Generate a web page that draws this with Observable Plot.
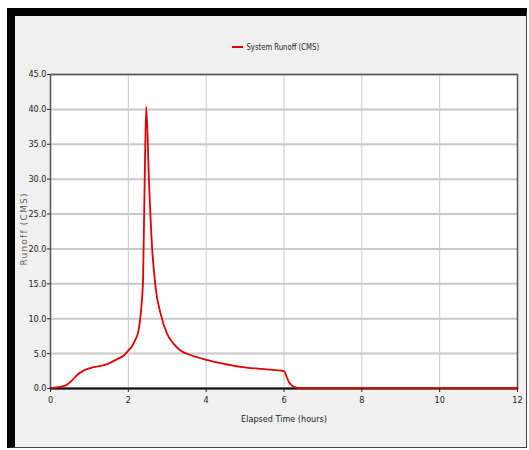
<!DOCTYPE html>
<html>
<head>
<meta charset="utf-8">
<script src="https://cdn.jsdelivr.net/npm/d3@7"></script>
<script src="https://cdn.jsdelivr.net/npm/@observablehq/plot@0.6"></script>
<style>
  body { margin: 0; background: #fff; }
  #wrap { position: relative; width: 529px; height: 450px; overflow: hidden; }
  #frame { position: absolute; left: 7px; top: 8px; width: 511px; height: 431px;
    border-left: 8px solid #000; border-top: 8px solid #000; border-right: 1px solid #444; border-bottom: 1px solid #444;
    background: #f0f0f0; }
  #chart { position: absolute; left: 0; top: 0; }
  #legend { position: absolute; top: 42px; left: 232px; font: 9px "DejaVu Sans Condensed", "Liberation Sans Narrow", sans-serif;
    color: #222; display: flex; align-items: center; transform: scaleX(0.85); transform-origin: left center; }
  #legend .sw { width: 13px; height: 2px; background: #e00000; margin-right: 4px; }
  .ylab { letter-spacing: 1.2px; }
</style>
</head>
<body>
<div id="wrap">
  <div id="frame"></div>
  <div id="chart"></div>
  <div id="legend"><span class="sw"></span><span>System Runoff (CMS)</span></div>
</div>
<script>
const hours = [0, 0.2, 0.39, 0.56, 0.7, 0.86, 1.11, 1.46, 1.71, 1.9, 1.99, 2.1, 2.19, 2.25, 2.3, 2.34, 2.38, 2.42, 2.46, 2.53, 2.61, 2.7, 2.83, 3.0, 3.15, 3.34, 3.6, 3.98, 4.4, 4.88, 5.4, 6.0, 6.04, 6.08, 6.13, 6.21, 6.34, 6.5, 8, 10, 12];
const runoff = [0.05, 0.2, 0.45, 1.2, 2.0, 2.6, 3.05, 3.5, 4.2, 4.8, 5.4, 6.1, 7.1, 8.0, 9.7, 12.0, 16.0, 29.8, 40.4, 29.8, 20.2, 14.5, 10.7, 7.8, 6.5, 5.45, 4.8, 4.15, 3.6, 3.1, 2.8, 2.5, 2.1, 1.5, 0.9, 0.4, 0.1, 0.05, 0.05, 0.05, 0.05];
const xTicks = [0, 2, 4, 6, 8, 10, 12];
const yTicks = [0, 5, 10, 15, 20, 25, 30, 35, 40, 45];
const seriesName = "System Runoff (CMS)";

const data = hours.map((h, i) => ({h, v: runoff[i]}));
const font = '"DejaVu Sans Condensed", "Liberation Sans Narrow", sans-serif';

const chart = Plot.plot({
  width: 529,
  height: 450,
  marginLeft: 50,
  marginRight: 12,
  marginTop: 74,
  marginBottom: 62,
  style: {background: "transparent", fontFamily: font, fontSize: "8.5px", color: "#222"},
  x: {domain: [0, 12], ticks: xTicks, tickSize: 4, tickFormat: d => d, label: null},
  y: {domain: [0, 45], ticks: yTicks, tickSize: 3, tickFormat: d => d.toFixed(1), label: null},
  marks: [
    Plot.frame({fill: "white", stroke: "none"}),
    Plot.gridX(xTicks, {stroke: "#c8c8c8", strokeOpacity: 1, strokeWidth: 1}),
    Plot.gridY(yTicks, {stroke: "#c8c8c8", strokeOpacity: 1, strokeWidth: 2}),
    Plot.frame({stroke: "#555", strokeWidth: 1.5}),
    Plot.ruleY([0], {stroke: "#111", strokeWidth: 2}),
    Plot.line(data, {x: "h", y: "v", stroke: "#e00000", strokeWidth: 1.8, curve: "monotone-x"}),
    Plot.axisX({ticks: xTicks, tickSize: 4, tickPadding: 4, tickFormat: d => d, label: null, fontSize: 9}),
    Plot.axisY({ticks: yTicks, tickSize: 3, tickPadding: 1, tickFormat: d => d.toFixed(1), label: null, fontSize: 9}),
    Plot.text(["Elapsed Time (hours)"], {frameAnchor: "bottom", dy: 33, fontSize: 9, fill: "#222"}),
    Plot.text(["Runoff (CMS)"], {frameAnchor: "left", dx: -26, dy: 34, rotate: -90, fontSize: 9, fill: "#666", fontFamily: "DejaVu Sans", className: "ylab"})
  ]
});
document.getElementById("chart").appendChild(chart);
</script>
</body>
</html>
